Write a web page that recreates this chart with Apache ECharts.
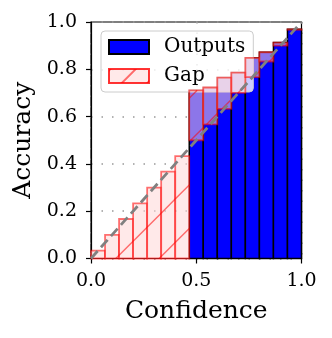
<!DOCTYPE html>
<html><head><meta charset="utf-8">
<script src="https://cdn.jsdelivr.net/npm/echarts@6/dist/echarts.min.js"></script>
<style>html,body{margin:0;padding:0;background:#fff}#c{width:332px;height:338px}</style>
</head><body><div id="c"></div>
<script>
// 15 confidence bins
const binLo = [0.000,0.0667,0.1333,0.2000,0.2667,0.3333,0.4000,0.4667,0.5333,0.6000,0.6667,0.7333,0.8000,0.8667,0.9333];
const binHi = [0.0667,0.1333,0.2000,0.2667,0.3333,0.4000,0.4667,0.5333,0.6000,0.6667,0.7333,0.8000,0.8667,0.9333,1.000];
const confidence = [0.033,0.100,0.167,0.233,0.300,0.367,0.433,0.500,0.567,0.633,0.700,0.767,0.833,0.900,0.967];
const accuracy   = [0,0,0,0,0,0,0,0.711,0.723,0.765,0.786,0.848,0.872,0.913,0.969];
const xTicks = [0, 0.5, 1.0];
const yTicks = [0, 0.2, 0.4, 0.6, 0.8, 1.0];

const FONT = 'DejaVu Serif';
const outData = binLo.map((lo,i)=>[lo, binHi[i], accuracy[i]]).filter(d=>d[2]>0);
const gapData = binLo.map((lo,i)=>[lo, binHi[i], accuracy[i], confidence[i]]);

const HATCH_SP = 43.4, HATCH_OFF = 24.8;
const GAP_FILL = 'rgba(255,215,215,0.55)';
const GAP_EDGE = 'rgba(255,0,0,0.55)';

function renderOut(params, api){
  const p0 = api.coord([api.value(0), api.value(2)]);
  const p1 = api.coord([api.value(1), 0]);
  return {type:'rect', shape:{x:p0[0], y:p0[1], width:p1[0]-p0[0], height:p1[1]-p0[1]},
    style:{fill:'#0000ff', stroke:'#000', lineWidth:1.5}};
}
function renderGap(params, api){
  const lo=api.value(0), hi=api.value(1), a=api.value(2), b=api.value(3);
  const p0 = api.coord([lo, Math.max(a,b)]);
  const p1 = api.coord([hi, Math.min(a,b)]);
  const x0=p0[0], x1=p1[0], yT=p0[1], yB=p1[1];
  const org = api.coord([0,0]);
  const base = org[0]+org[1]+HATCH_OFF;
  const children = [{type:'rect', shape:{x:x0,y:yT,width:x1-x0,height:yB-yT}, style:{fill:GAP_FILL}}];
  const kMin = Math.ceil((x0+yT-base)/HATCH_SP), kMax = Math.floor((x1+yB-base)/HATCH_SP);
  for(let k=kMin;k<=kMax;k++){
    const c = base + k*HATCH_SP;
    const xs = Math.max(x0, c-yB), xe = Math.min(x1, c-yT);
    if (xe-xs>0.5) children.push({type:'line', shape:{x1:xs,y1:c-xs,x2:xe,y2:c-xe}, style:{stroke:GAP_EDGE,lineWidth:1.4}});
  }
  children.push({type:'rect', shape:{x:x0,y:yT,width:x1-x0,height:yB-yT}, style:{fill:null, stroke:GAP_EDGE, lineWidth:1.8}});
  return {type:'group', children};
}

const chart = echarts.init(document.getElementById('c'), null, {renderer:'canvas'});
chart.setOption({
  animation:false,
  backgroundColor:'#fff',
  grid:{left:91, top:22, width:210.5, height:236.5, show:true, borderColor:'#000', borderWidth:1.2, backgroundColor:'transparent'},
  xAxis:{type:'value', min:0, max:1, interval:0.5,
    name:'Confidence', nameLocation:'middle', nameGap:40,
    nameTextStyle:{fontFamily:FONT, fontSize:25, color:'#000'},
    axisLine:{show:true, onZero:false, lineStyle:{color:'#000', width:1.2}},
    axisTick:{show:true, length:5, lineStyle:{color:'#000', width:1.2}},
    axisLabel:{fontFamily:FONT, fontSize:19, color:'#000', margin:13, formatter:v=>v.toFixed(1)},
    splitLine:{show:true, lineStyle:{color:'#999', width:1.5, type:[1.5,9]}}},
  yAxis:{type:'value', min:0, max:1, interval:0.2,
    name:'Accuracy', nameLocation:'middle', nameGap:51,
    nameTextStyle:{fontFamily:FONT, fontSize:25, color:'#000'},
    axisLine:{show:true, onZero:false, lineStyle:{color:'#000', width:1.2}},
    axisTick:{show:true, length:5, lineStyle:{color:'#000', width:1.2}},
    axisLabel:{fontFamily:FONT, fontSize:19, color:'#000', margin:14, formatter:v=>v.toFixed(1)},
    splitLine:{show:true, lineStyle:{color:'#999', width:1.5, type:[1.5,9]}}},
  legend:{left:101, top:31, orient:'vertical', itemWidth:40, itemHeight:14, itemGap:9,
    padding:[6,8,6,7], backgroundColor:'rgba(255,255,255,0.8)', borderColor:'#ccc', borderWidth:1, borderRadius:4,
    textStyle:{fontFamily:FONT, fontSize:20, color:'#000', padding:[0,0,0,10]},
    data:[{name:'Outputs', icon:'rect'},
          {name:'Gap', icon:'rect', itemStyle:{decal:{symbol:'rect', color:GAP_EDGE, dashArrayX:[1,0], dashArrayY:[1.5,16], rotation:-Math.PI/4}}}]},
  series:[
    {name:'Outputs', type:'custom', renderItem:renderOut, data:outData, z:3,
      itemStyle:{color:'#0000ff', borderColor:'#000', borderWidth:1.5}, encode:{x:[0,1], y:2}},
    {name:'Gap', type:'custom', renderItem:renderGap, data:gapData, z:4,
      itemStyle:{color:GAP_FILL, borderColor:GAP_EDGE, borderWidth:1.8}, encode:{x:[0,1], y:[2,3]}},
    {name:'diag', type:'line', data:[[0,0],[1,1]], symbol:'none', z:5, silent:true,
      lineStyle:{color:'#808080', width:2.8, type:[10,5]}}
  ]
});
</script></body></html>
